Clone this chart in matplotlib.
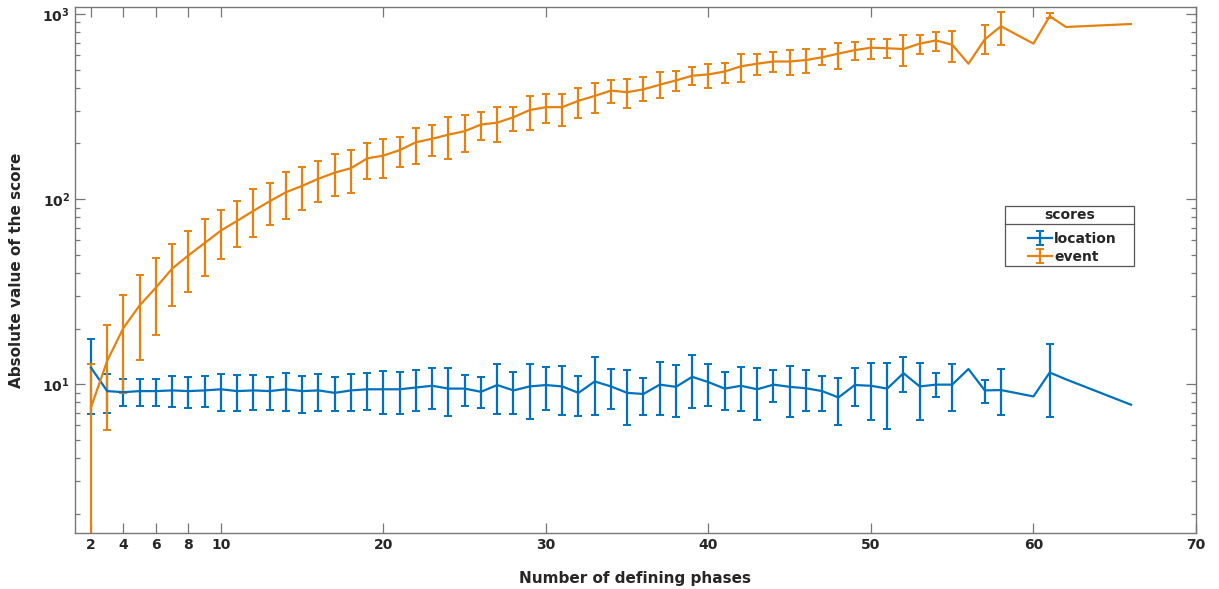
import numpy as np
import matplotlib
matplotlib.use("Agg")
import matplotlib.pyplot as plt
from matplotlib import ticker
from matplotlib.patches import Rectangle

nan = float("nan")

# number of defining phases
phases = list(range(2, 59)) + [60, 61, 62, 66]

# location score: mean, lower and upper end of the error bar
loc_mean = [12.3, 9.19, 9.07, 9.19, 9.19, 9.27, 9.19, 9.27, 9.40, 9.19, 9.27, 9.19, 9.40, 9.19, 9.27, 8.99, 9.27,
            9.40, 9.40, 9.40, 9.61, 9.82, 9.48, 9.48, 9.11, 9.91, 9.27, 9.74, 9.91, 9.74, 8.99, 10.36, 9.74, 8.99,
            8.87, 9.96, 9.69, 10.98, 10.27, 9.48, 9.82, 9.40, 9.96, 9.69, 9.52, 9.19, 8.49, 9.91, 9.82, 9.48, 11.48,
            9.74, 9.96, 9.96, 12.10, 9.27, 9.31,
            8.60, 11.58, 10.64, 7.76]
loc_hi = [17.65, 11.32, 10.74, 10.74, 10.74, 11.12, 10.93, 11.12, 11.42, 11.22, 11.22, 10.93, 11.53, 11.03, 11.32, 10.93, 11.32,
          11.58, 11.73, 11.63, 11.89, 12.27, 12.27, 11.22, 10.93, 12.82, 11.63, 12.82, 12.38, 12.60, 11.12, 14.02, 12.16, 12.00,
          10.83, 13.23, 12.65, 14.45, 12.94, 11.63, 12.38, 12.27, 12.00, 12.54, 12.00, 11.12, 10.83, 12.27, 13.11, 13.05, 14.02,
          13.11, 11.48, 12.82, nan, 10.50, 12.10,
          nan, 16.59, nan, nan]
loc_lo = [6.89, 6.98, 7.59, 7.59, 7.59, 7.53, 7.43, 7.53, 7.20, 7.14, 7.26, 7.30, 7.20, 7.04, 7.20, 7.14, 7.20,
          7.26, 6.95, 6.95, 7.14, 7.33, 6.74, 7.63, 7.46, 6.95, 6.89, 6.50, 7.26, 6.83, 6.71, 6.83, 7.33, 6.03,
          6.83, 6.83, 6.68, 7.46, 7.63, 7.30, 7.20, 6.44, 8.04, 6.65, 7.14, 7.20, 6.03, 7.59, 6.39, 5.71, 9.11,
          6.39, 8.49, 7.14, nan, 7.94, 6.80,
          nan, 6.65, nan, nan]

# event score
ev_mean = [7.5, 13.4, 20.2, 26.7, 33.3, 42.2, 49.7, 58.0, 67.7, 76.4, 86.5, 97.5, 109, 118, 129, 139, 147,
           166, 172, 184, 203, 212, 223, 233, 253, 259, 277, 303, 314, 314, 340, 361, 386, 378,
           392, 415, 438, 464, 472, 489, 522, 539, 554, 554, 564, 584, 611, 638, 658, 653, 647,
           692, 720, 682, 539, 729, 859,
           692, 973, 851, 883]
ev_lo = [1.2, 5.64, 8.99, 13.6, 18.5, 26.4, 31.4, 38.4, 47.5, 55.5, 62.5, 72.4, 78.2, 87.4, 96.6, 104, 108,
         129, 130, 149, 155, 171, 165, 180, 208, 204, 234, 237, 257, 249, 275, 293, 332, 311,
         340, 351, 383, 415, 400, 424, 431, 468, 489, 468, 478, 530, 507, 564, 571, 577, 523,
         605, 630, 554, nan, 611, 682,
         nan, 951, nan, nan]
ev_hi = [12.8, 20.9, 30.3, 38.7, 48.2, 57.3, 67.7, 78.5, 87.7, 98.0, 113, 123, 140, 149, 160, 176, 184,
         201, 212, 217, 243, 251, 278, 284, 296, 313, 316, 362, 368, 371, 400, 422, 438, 448,
         457, 484, 493, 516, 539, 546, 605, 611, 624, 638, 647, 647, 697, 703, 729, 729, 773,
         773, 797, 807, nan, 871, 1026,
         nan, 1007, nan, nan]

xticks = [2, 4, 6, 8, 10, 20, 30, 40, 50, 60, 70]

plt.rcParams["font.family"] = "DejaVu Sans"
plt.rcParams["font.weight"] = "bold"
plt.rcParams["axes.labelweight"] = "bold"
plt.rcParams["mathtext.fontset"] = "dejavusans"

blue = "#0072BD"
orange = "#E5820F"
gray = "#777777"
dark = "#262626"

fig = plt.figure(figsize=(12.19, 5.89), dpi=100)
ax = fig.add_axes([0.0613, 0.0951, 0.9198, 0.8935])


def yerr(mean, lo, hi):
    m = np.array(mean)
    return [m - np.array(lo), np.array(hi) - m]


h1 = ax.errorbar(phases, loc_mean, yerr=yerr(loc_mean, loc_lo, loc_hi), color=blue,
                 lw=1.6, elinewidth=1.6, capsize=2.6, capthick=1.4, label="location")
h2 = ax.errorbar(phases, ev_mean, yerr=yerr(ev_mean, ev_lo, ev_hi), color=orange,
                 lw=1.6, elinewidth=1.6, capsize=2.6, capthick=1.4, label="event")

ax.set_yscale("log")
ax.set_xlim(1, 70)
ax.set_ylim(1.574, 1095)
ax.set_xticks(xticks)
ax.yaxis.set_major_locator(ticker.LogLocator(base=10, numticks=10))
ax.yaxis.set_minor_locator(ticker.LogLocator(base=10, subs=np.arange(2, 10), numticks=20))
ax.yaxis.set_major_formatter(ticker.FuncFormatter(lambda v, p: r"$\mathbf{10^{%d}}$" % round(np.log10(v))))
ax.yaxis.set_minor_formatter(ticker.NullFormatter())

ax.tick_params(which="both", direction="in", top=True, right=True, color=gray,
               labelsize=10, labelcolor=dark)
ax.tick_params(which="major", length=7, width=0.9)
ax.tick_params(which="minor", length=3.5, width=0.9)
for s in ax.spines.values():
    s.set_color(gray)
    s.set_linewidth(1.0)

ax.set_xlabel("Number of defining phases", fontsize=11, color=dark, labelpad=14)
ax.set_ylabel("Absolute value of the score", fontsize=11, color=dark, labelpad=13)

# legend box with a title row, MATLAB style
bx0, bx1, by0, by1 = 0.8297, 0.9447, 0.5073, 0.6213
ax.add_patch(Rectangle((bx0, by0), bx1 - bx0, by1 - by0, transform=ax.transAxes,
                       facecolor="white", edgecolor="#555555", lw=0.9, zorder=5))
ax.plot([bx0, bx1], [0.5870, 0.5870], transform=ax.transAxes, color="#555555", lw=0.9, zorder=6)
ax.text((bx0 + bx1) / 2, 0.6045, "scores", transform=ax.transAxes, ha="center", va="center",
        fontsize=10, fontweight="bold", color=dark, zorder=6)
leg = ax.legend(handles=[h1, h2], loc="upper left", bbox_to_anchor=(0.8500, 0.5720),
                frameon=False, fontsize=10, handlelength=1.75, handletextpad=0.15,
                borderpad=0, labelspacing=0.3, borderaxespad=0)
leg.set_zorder(7)
for t in leg.get_texts():
    t.set_color(dark)

plt.savefig("out.png", dpi=100)
